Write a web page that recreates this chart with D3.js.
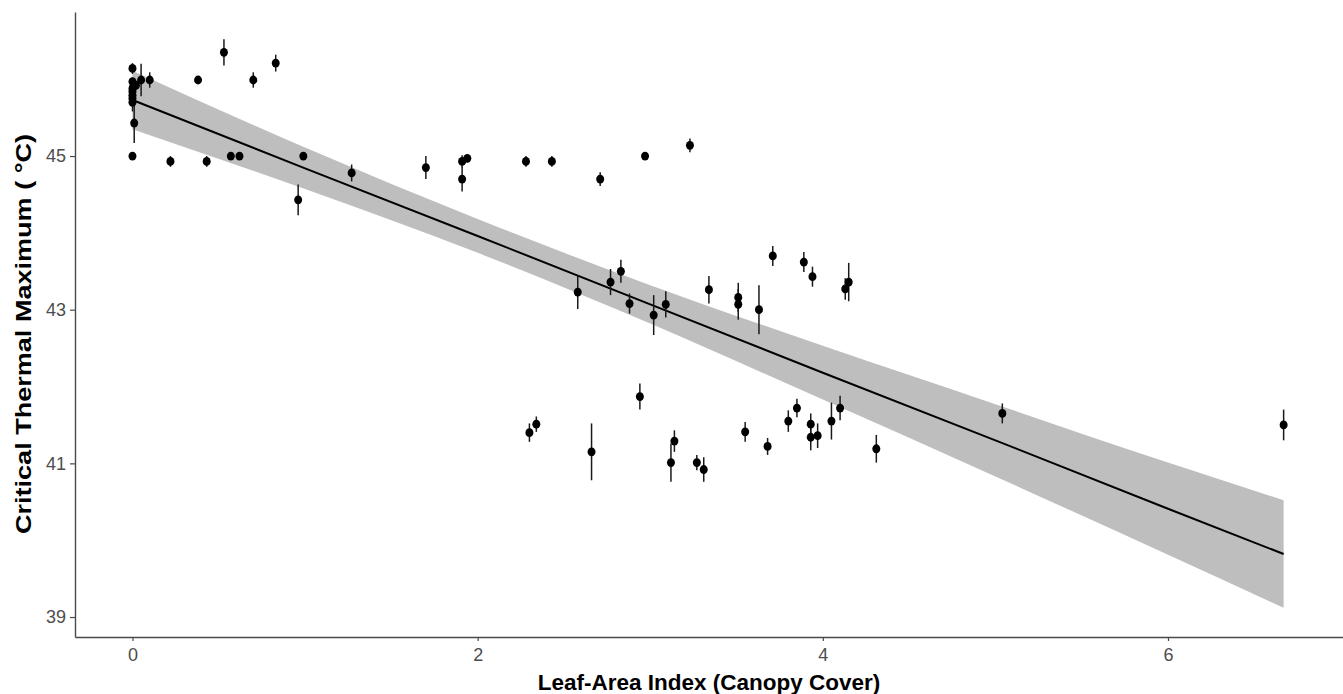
<!DOCTYPE html>
<html>
<head>
<meta charset="utf-8">
<script src="https://cdn.jsdelivr.net/npm/d3@7"></script>
<style>
  body { margin: 0; background: #fff; }
  svg { display: block; }
</style>
</head>
<body>
<div id="container"></div>
<script>
// Leaf-area index for each population
const lai = [
  0.00, 0.00, 0.02, 0.00, 0.00, 0.00, 0.00, 0.00, 0.01, 0.00,
  0.05, 0.10, 0.22, 0.38, 0.43, 0.53, 0.57, 0.62, 0.70, 0.83,
  0.96, 0.99, 1.27, 1.70, 1.91, 1.94, 1.91, 2.28, 2.43, 2.71,
  2.97, 3.23, 2.58, 2.77, 2.83, 2.88, 3.02, 3.09, 3.34, 3.51,
  3.51, 3.63, 3.71, 3.89, 3.94, 4.13, 4.15, 2.94, 2.66, 3.12,
  3.14, 3.27, 3.31, 3.55, 3.68, 3.80, 3.85, 3.93, 3.93, 3.97,
  4.05, 4.10, 4.31, 2.30, 2.34, 5.04, 6.67
];
// mean critical thermal maximum (°C)
const ctmax = [
  46.14, 45.97, 45.92, 45.88, 45.84, 45.79, 45.75, 45.70, 45.43, 45.00,
  45.99, 45.99, 44.93, 45.99, 44.93, 46.35, 45.00, 45.00, 45.99, 46.21,
  44.43, 45.00, 44.78, 44.85, 44.93, 44.97, 44.70, 44.93, 44.93, 44.70,
  45.00, 45.14, 43.23, 43.36, 43.50, 43.08, 42.93, 43.07, 43.26, 43.16,
  43.07, 43.00, 43.70, 43.62, 43.43, 43.27, 43.36, 41.87, 41.15, 41.01,
  41.29, 41.01, 40.92, 41.41, 41.22, 41.55, 41.72, 41.51, 41.34, 41.36,
  41.55, 41.72, 41.19, 41.40, 41.51, 41.65, 41.50
];
// error bar half-length (°C)
const ctErr = [
  0.07, 0.05, 0.06, 0.06, 0.08, 0.10, 0.10, 0.12, 0.26, 0.00,
  0.21, 0.10, 0.07, 0.00, 0.07, 0.17, 0.00, 0.00, 0.10, 0.11,
  0.20, 0.00, 0.11, 0.15, 0.08, 0.05, 0.16, 0.07, 0.07, 0.09,
  0.00, 0.09, 0.22, 0.17, 0.15, 0.13, 0.26, 0.17, 0.18, 0.19,
  0.20, 0.32, 0.13, 0.13, 0.13, 0.14, 0.25, 0.17, 0.37, 0.25,
  0.14, 0.10, 0.16, 0.13, 0.11, 0.14, 0.12, 0.14, 0.17, 0.16,
  0.24, 0.16, 0.18, 0.12, 0.10, 0.13, 0.20
];

// fitted line and confidence band, read at a few LAI values
const fitX = [0, 1, 2, 3, 4, 5, 6, 6.67];
const fitY = [45.73, 44.84, 43.96, 43.07, 42.18, 41.30, 40.41, 39.82];
const fitLo = [45.35, 44.57, 43.74, 42.82, 41.83, 40.83, 39.81, 39.12];
const fitHi = [46.11, 45.11, 44.18, 43.32, 42.53, 41.77, 41.01, 40.52];

const xTicks = [0, 2, 4, 6];
const yTicks = [39, 41, 43, 45];

const W = 1343, H = 694;
const margin = { left: 75, right: 0, top: 12, bottom: 57 };

const x = d3.scaleLinear()
    .domain([-0.333, 7.014])
    .range([margin.left, W - margin.right]);

const y = d3.scaleLinear()
    .domain([38.74, 46.875])
    .range([H - margin.bottom, margin.top]);

const svg = d3.select("#container")
    .append("svg")
    .attr("width", W)
    .attr("height", H)
    .style("font-family", "'Liberation Sans', Arial, sans-serif");

const fit = fitX.map((v, i) => ({ x: v, y: fitY[i], lo: fitLo[i], hi: fitHi[i] }));

// confidence ribbon
svg.append("path")
    .datum(fit)
    .attr("fill", "#bebebe")
    .attr("d", d3.area()
        .x(d => x(d.x))
        .y0(d => y(d.lo))
        .y1(d => y(d.hi))
        .curve(d3.curveMonotoneX));

// regression line
svg.append("path")
    .datum(fit)
    .attr("fill", "none")
    .attr("stroke", "#000")
    .attr("stroke-width", 2)
    .attr("d", d3.line()
        .x(d => x(d.x))
        .y(d => y(d.y)));

const pts = lai.map((v, i) => ({ x: v, y: ctmax[i], e: ctErr[i] }));

// error bars
svg.append("g")
    .selectAll("line")
    .data(pts.filter(d => d.e > 0))
    .join("line")
    .attr("x1", d => x(d.x))
    .attr("x2", d => x(d.x))
    .attr("y1", d => y(d.y - d.e))
    .attr("y2", d => y(d.y + d.e))
    .attr("stroke", "#1a1a1a")
    .attr("stroke-width", 1.5);

// points
svg.append("g")
    .selectAll("ellipse")
    .data(pts)
    .join("ellipse")
    .attr("cx", d => x(d.x))
    .attr("cy", d => y(d.y))
    .attr("rx", 4)
    .attr("ry", 4.4)
    .attr("fill", "#000");

// x axis
const xAxis = svg.append("g")
    .attr("transform", `translate(0,${H - margin.bottom})`)
    .call(d3.axisBottom(x).tickValues(xTicks).tickSize(4).tickPadding(7).tickSizeOuter(0));

// y axis
const yAxis = svg.append("g")
    .attr("transform", `translate(${margin.left},0)`)
    .call(d3.axisLeft(y).tickValues(yTicks).tickSize(5).tickPadding(4).tickSizeOuter(0));

[xAxis, yAxis].forEach(g => {
    g.select(".domain").attr("stroke", "#4a4a4a").attr("stroke-width", 1.4);
    g.selectAll(".tick line").attr("stroke", "#4a4a4a").attr("stroke-width", 1.2);
    g.selectAll(".tick text")
        .attr("fill", "#4d4d4d")
        .attr("font-size", 18)
        .attr("font-family", "'Liberation Sans', Arial, sans-serif");
});

// axis titles
svg.append("text")
    .attr("x", (margin.left + W) / 2)
    .attr("y", H - 4)
    .attr("text-anchor", "middle")
    .attr("font-weight", "bold")
    .attr("font-size", 22.5)
    .attr("fill", "#000")
    .text("Leaf-Area Index (Canopy Cover)");

svg.append("text")
    .attr("transform", `translate(31,334) rotate(-90)`)
    .attr("text-anchor", "middle")
    .attr("font-weight", "bold")
    .attr("font-size", 22.5)
    .attr("textLength", 400)
    .attr("lengthAdjust", "spacingAndGlyphs")
    .attr("fill", "#000")
    .text("Critical Thermal Maximum ( °C)");
</script>
</body>
</html>
